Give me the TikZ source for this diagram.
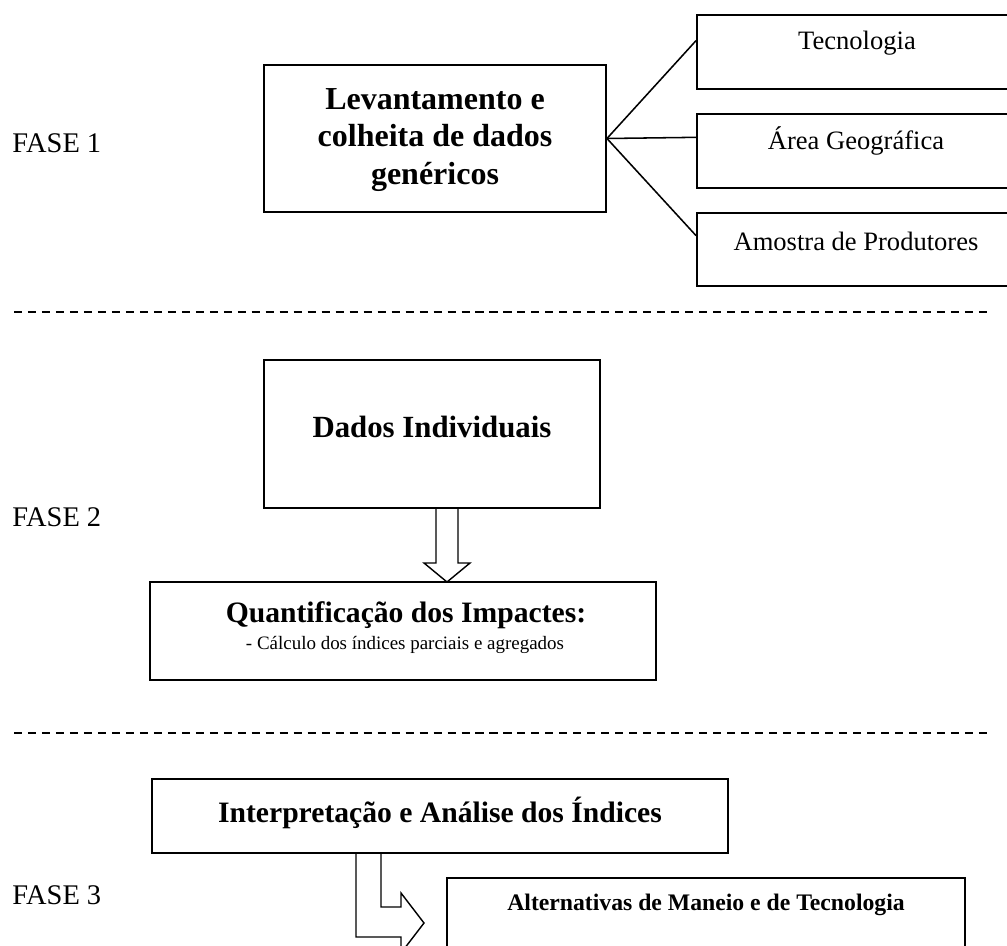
\documentclass[tikz,border=0pt]{standalone}
\usepackage{fontspec}
\setmainfont{Liberation Serif}
\usetikzlibrary{calc,fit}
\begin{document}
\begin{tikzpicture}[x=0.4219pt,y=-0.4219pt,
  box/.style={draw, line width=0.8pt, inner sep=0pt},
  txt/.style={inner sep=0pt, align=center},
  fase/.style={inner sep=0pt, anchor=west, font=\fontsize{12}{14}\selectfont},
  small/.style={txt, font=\fontsize{11.2}{13}\selectfont},
  fan/.style={line width=0.65pt},
  hollow/.style={line width=0.6pt, line join=miter},
  dashline/.style={line width=1pt, dash pattern=on 3.4pt off 2.5pt}]
\useasboundingbox (0,0) rectangle (1007,946);
\clip (0,0) rectangle (1007,946);

% ---------- FASE 1 ----------
\node[fase] (f1) at (12,143) {FASE 1};
\node[box, fit={(264,65) (606,212)}] (b1) {};
\node[txt, font=\fontsize{13.5}{16}\selectfont\bfseries] (b1txt) at (435,140) {Levantamento e\\colheita de dados\\genéricos};

\node[box, fit={(697,15) (1017,89)}] (t1) {};
\node[box, fit={(697,114) (1017,188)}] (t2) {};
\node[box, fit={(697,213) (1017,286)}] (t3) {};
\node[small] (t1txt) at (857,43) {Tecnologia};
\node[small] (t2txt) at (856,141) {Área Geográfica};
\node[small] (t3txt) at (856,241) {Amostra de Produtores};

\draw[fan] (b1.east) -- ($(t1.north west)!0.35!(t1.south west)$);
\draw[fan] (b1.east) -- ($(t2.north west)!0.32!(t2.south west)$);
\draw[fan] (b1.east) -- ($(t3.north west)!0.315!(t3.south west)$);

\coordinate (d1a) at (14,312);
\coordinate (d1b) at (988,312);
\draw[dashline] (d1a) -- (d1b);

% ---------- FASE 2 ----------
\node[fase] (f2) at (12,517) {FASE 2};
\node[box, fit={(264,360) (600,508)}] (b2) {};
\node[txt, font=\fontsize{13}{15}\selectfont\bfseries] (b2txt) at (432,427) {Dados Individuais};

\node[box, fit={(150,582) (656,680)}] (b3) {};
\node[txt, font=\fontsize{12.5}{15}\selectfont\bfseries] (b3txt) at (406,615) {Quantificação dos Impactes:};
\node[txt, font=\fontsize{8}{10}\selectfont] (b3sub) at (405,645) {- Cálculo dos índices parciais e agregados};

\coordinate (a2) at (447,508);
\draw[hollow] ($(a2)+(-11,0)$) -- ++(0,55) -- ++(-12,0) -- ++(23,19) -- ++(23,-19) -- ++(-12,0) -- ++(0,-55);

\coordinate (d2a) at (14,733);
\coordinate (d2b) at (988,733);
\draw[dashline] (d2a) -- (d2b);

% ---------- FASE 3 ----------
\node[fase] (f3) at (12,895) {FASE 3};
\node[box, fit={(152,779) (728,853)}] (b4) {};
\node[txt, font=\fontsize{12.5}{15}\selectfont\bfseries] (b4txt) at (440,813) {Interpretação e Análise dos Índices};

\node[box, fit={(447,878) (965,1010)}] (b5) {};
\node[txt, font=\fontsize{10}{12}\selectfont\bfseries] (b5txt) at (706,905) {Alternativas de Maneio e de Tecnologia};

\coordinate (a3) at (356,853);
\draw[hollow] (a3) -- ++(0,84) -- ++(45,0) -- ++(0,16) -- ++(23,-30) -- ++(-23,-30) -- ++(0,14) -- ++(-20,0) -- ++(0,-54);
\end{tikzpicture}
\end{document}
